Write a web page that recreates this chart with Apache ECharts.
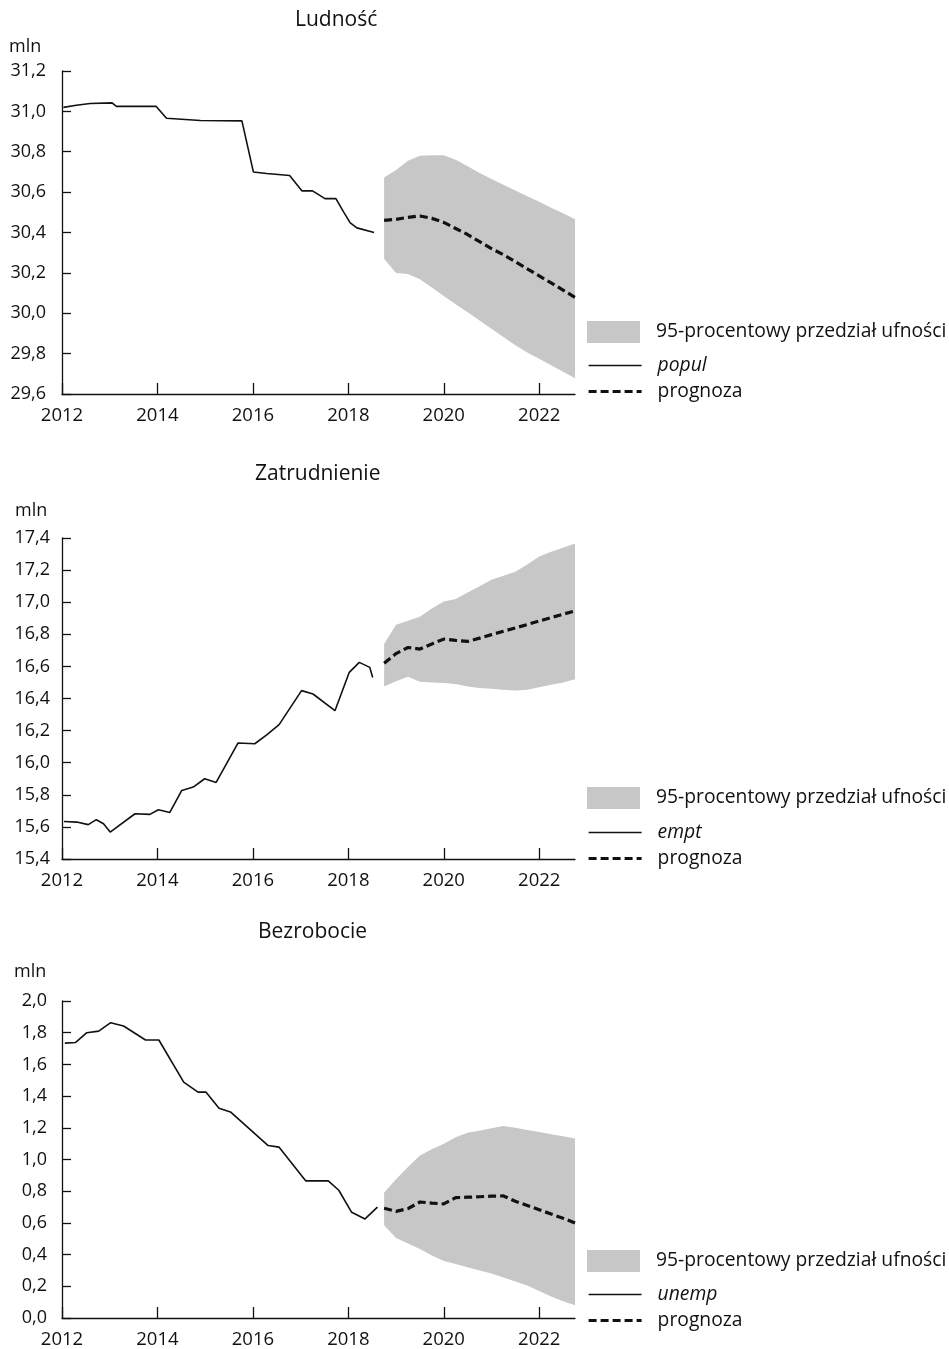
<!DOCTYPE html>
<html>
<head>
<meta charset="utf-8">
<script src="https://cdn.jsdelivr.net/npm/echarts@6/dist/echarts.min.js"></script>
<style>
  html, body { margin: 0; padding: 0; background: #ffffff; }
  #chart { width: 949px; height: 1349px; }
</style>
</head>
<body>
<div id="chart"></div>
<script>
// Quarterly grid 2012 Q1 .. 2022 Q4 (band and forecast live on it)
const quarters = [];
for (let y = 2012; y <= 2022; y++) {
  for (let q = 1; q <= 4; q++) quarters.push(y + ' Q' + q);
}
const forecastOffset = 27; // 2018 Q4 is the first forecast quarter
const xTickYears = [2012, 2014, 2016, 2018, 2020, 2022];

// ---- Ludność (popul) ----
const popT = [2012.03, 2012.3, 2012.59, 2013.05, 2013.14, 2013.97, 2014.19, 2014.9, 2015.77, 2016.01,
              2016.29, 2016.77, 2017.03, 2017.25, 2017.51, 2017.74, 2017.9, 2018.04, 2018.18, 2018.54];
const popV = [31.02, 31.03, 31.039, 31.042, 31.025, 31.025, 30.966, 30.955, 30.953, 30.70,
              30.692, 30.682, 30.606, 30.606, 30.568, 30.568, 30.502, 30.448, 30.423, 30.40];
const popFc = [30.46, 30.465, 30.475, 30.482, 30.47, 30.45, 30.42, 30.39, 30.355,
               30.32, 30.29, 30.255, 30.22, 30.185, 30.15, 30.115, 30.078];
const popUp = [30.672, 30.71, 30.755, 30.78, 30.783, 30.783, 30.76, 30.728, 30.695,
               30.665, 30.637, 30.608, 30.58, 30.552, 30.523, 30.495, 30.466];
const popLo = [30.27, 30.20, 30.195, 30.168, 30.127, 30.086, 30.045, 30.005, 29.964,
               29.923, 29.882, 29.842, 29.806, 29.774, 29.742, 29.71, 29.678];

// ---- Zatrudnienie (empt) ----
const empT = [2012.04, 2012.31, 2012.55, 2012.72, 2012.87, 2013.01, 2013.53, 2013.84, 2014.02, 2014.26,
              2014.51, 2014.75, 2014.99, 2015.23, 2015.69, 2016.04, 2016.29, 2016.55, 2017.02, 2017.26,
              2017.72, 2018.02, 2018.23, 2018.45, 2018.51];
const empV = [15.634, 15.63, 15.614, 15.645, 15.62, 15.568, 15.682, 15.678, 15.707, 15.69,
              15.827, 15.848, 15.90, 15.877, 16.123, 16.118, 16.174, 16.237, 16.449, 16.428,
              16.324, 16.563, 16.625, 16.594, 16.531];
const empFc = [16.62, 16.68, 16.718, 16.708, 16.74, 16.77, 16.762, 16.756, 16.776,
               16.798, 16.819, 16.84, 16.861, 16.883, 16.904, 16.925, 16.946];
const empUp = [16.74, 16.86, 16.885, 16.91, 16.96, 17.005, 17.02, 17.06, 17.10,
               17.14, 17.165, 17.19, 17.235, 17.285, 17.315, 17.34, 17.365];
const empLo = [16.475, 16.507, 16.535, 16.505, 16.50, 16.497, 16.49, 16.475, 16.465,
               16.46, 16.455, 16.45, 16.455, 16.47, 16.485, 16.50, 16.52];

// ---- Bezrobocie (unemp) ----
const unT = [2012.06, 2012.28, 2012.52, 2012.77, 2013.02, 2013.29, 2013.75, 2014.03, 2014.55, 2014.85,
             2015.02, 2015.29, 2015.53, 2016.32, 2016.55, 2017.11, 2017.58, 2017.8, 2018.07, 2018.35, 2018.61];
const unV = [1.734, 1.738, 1.80, 1.81, 1.863, 1.842, 1.754, 1.754, 1.488, 1.425,
             1.425, 1.323, 1.30, 1.088, 1.078, 0.865, 0.865, 0.806, 0.667, 0.625, 0.70];
const unFc = [0.692, 0.673, 0.69, 0.732, 0.725, 0.72, 0.759, 0.762, 0.765,
              0.769, 0.77, 0.737, 0.71, 0.683, 0.656, 0.629, 0.60];
const unUp = [0.79, 0.875, 0.952, 1.025, 1.065, 1.10, 1.14, 1.168, 1.182,
              1.197, 1.211, 1.20, 1.186, 1.173, 1.16, 1.146, 1.132];
const unLo = [0.585, 0.505, 0.47, 0.435, 0.395, 0.36, 0.34, 0.32, 0.30,
              0.28, 0.255, 0.23, 0.205, 0.17, 0.135, 0.105, 0.08];

const BAND = '95-procentowy przedział ufności';
const FORECAST = 'prognoza';
const INK = '#111111';
const GREY = '#c6c7c6';
const FONT = "'Open Sans', 'Noto Sans', sans-serif";
const HIST_LINE = { color: INK, width: 1.6 };
const FC_LINE = { color: INK, width: 3.2, type: [8, 4] };

const panels = [
  { title: 'Ludność', titleLeft: 295, titleTop: 10, unitLeft: 9, unitTop: 38,
    top: 71, height: 323, min: 29.6, max: 31.2, labelMargin: 16,
    name: 'popul', t: popT, v: popV, fc: popFc, up: popUp, lo: popLo,
    rectTop: 321, linesTop: 356 },
  { title: 'Zatrudnienie', titleLeft: 255, titleTop: 464, unitLeft: 15, unitTop: 502,
    top: 538, height: 321, min: 15.4, max: 17.4, labelMargin: 12,
    name: 'empt', t: empT, v: empV, fc: empFc, up: empUp, lo: empLo,
    rectTop: 787, linesTop: 823 },
  { title: 'Bezrobocie', titleLeft: 258, titleTop: 922, unitLeft: 14, unitTop: 963,
    top: 1001, height: 320, min: 0, max: 2.0, labelMargin: 15,
    name: 'unemp', t: unT, v: unV, fc: unFc, up: unUp, lo: unLo,
    rectTop: 1250, linesTop: 1285 }
];

const pad = arr => new Array(forecastOffset).fill(null).concat(arr);

const titles = [], grids = [], xAxes = [], yAxes = [], series = [], legends = [];

panels.forEach((p, i) => {
  titles.push({
    text: p.title, left: p.titleLeft, top: p.titleTop, padding: 0,
    textStyle: { fontFamily: FONT, fontSize: 21, fontWeight: 'normal', color: INK }
  });
  titles.push({
    text: 'mln', left: p.unitLeft, top: p.unitTop, padding: 0,
    textStyle: { fontFamily: FONT, fontSize: 18, fontWeight: 'normal', color: INK }
  });

  grids.push({ left: 62, width: 513, top: p.top, height: p.height, containLabel: false });

  // visible year axis
  xAxes.push({
    type: 'value', gridIndex: i, min: 2012, max: 2022.75, interval: 2,
    axisLine: { show: true, onZero: false, lineStyle: { color: INK, width: 1.3 } },
    axisTick: { show: true, inside: true, length: 11, customValues: xTickYears,
                lineStyle: { color: INK, width: 1.3 } },
    axisLabel: { fontFamily: FONT, fontSize: 18.5, color: INK, margin: 12, customValues: xTickYears,
                 formatter: v => String(v) },
    splitLine: { show: false }
  });
  // hidden quarterly axis for the forecast band
  xAxes.push({
    type: 'category', gridIndex: i, data: quarters, boundaryGap: false, show: false
  });

  yAxes.push({
    type: 'value', gridIndex: i, min: p.min, max: p.max, interval: 0.2,
    axisLine: { show: true, lineStyle: { color: INK, width: 1.3 } },
    axisTick: { show: true, inside: true, length: 9, lineStyle: { color: INK, width: 1.3 } },
    axisLabel: { fontFamily: FONT, fontSize: 18, color: INK, margin: p.labelMargin,
                 formatter: v => v.toFixed(1).replace('.', ',') },
    splitLine: { show: false }
  });

  const bandHeight = p.up.map((u, k) => +(u - p.lo[k]).toFixed(4));

  series.push({
    type: 'line', name: 'dolna granica ' + p.name, xAxisIndex: 2 * i + 1, yAxisIndex: i,
    data: pad(p.lo), stack: 'band' + i, symbol: 'none', silent: true, z: 1,
    lineStyle: { opacity: 0 }
  });
  series.push({
    type: 'line', name: BAND, xAxisIndex: 2 * i + 1, yAxisIndex: i,
    data: pad(bandHeight), stack: 'band' + i, symbol: 'none', silent: true, z: 1,
    lineStyle: { opacity: 0 }, itemStyle: { color: GREY },
    areaStyle: { color: GREY, opacity: 1 }
  });
  series.push({
    type: 'line', name: p.name, xAxisIndex: 2 * i, yAxisIndex: i,
    data: p.t.map((t, k) => [t, p.v[k]]), symbol: 'none', silent: true, z: 3,
    lineStyle: HIST_LINE, itemStyle: { color: INK }
  });
  series.push({
    type: 'line', name: FORECAST, xAxisIndex: 2 * i + 1, yAxisIndex: i,
    data: pad(p.fc), symbol: 'none', silent: true, z: 3,
    lineStyle: FC_LINE, itemStyle: { color: INK }
  });

  const rich = {
    t: { fontFamily: FONT, fontSize: 19.3, color: INK, lineHeight: 18, padding: [0, 0, 0, 11] },
    i: { fontFamily: FONT, fontSize: 19.3, color: INK, lineHeight: 18, fontStyle: 'italic', padding: [0, 0, 0, 11] }
  };
  legends.push({
    left: 587, top: p.rectTop, padding: 0, itemWidth: 53, itemHeight: 22, selectedMode: false,
    data: [{ name: BAND, icon: 'rect', itemStyle: { color: GREY, borderWidth: 0 } }],
    formatter: n => '{t|' + n + '}',
    textStyle: { rich: rich }
  });
  legends.push({
    left: 587, top: p.linesTop, padding: 0, orient: 'vertical', itemWidth: 53, itemHeight: 14,
    itemGap: 7, selectedMode: false,
    data: [
      { name: p.name, itemStyle: { opacity: 0 }, lineStyle: HIST_LINE },
      { name: FORECAST, itemStyle: { opacity: 0 }, lineStyle: FC_LINE }
    ],
    formatter: n => n === FORECAST ? '{t|' + n + '}' : '{i|' + n + '}',
    textStyle: { rich: rich }
  });
});

const chart = echarts.init(document.getElementById('chart'), null, { renderer: 'canvas' });
chart.setOption({
  backgroundColor: '#ffffff',
  animation: false,
  title: titles,
  grid: grids,
  xAxis: xAxes,
  yAxis: yAxes,
  legend: legends,
  series: series
});
</script>
</body>
</html>
